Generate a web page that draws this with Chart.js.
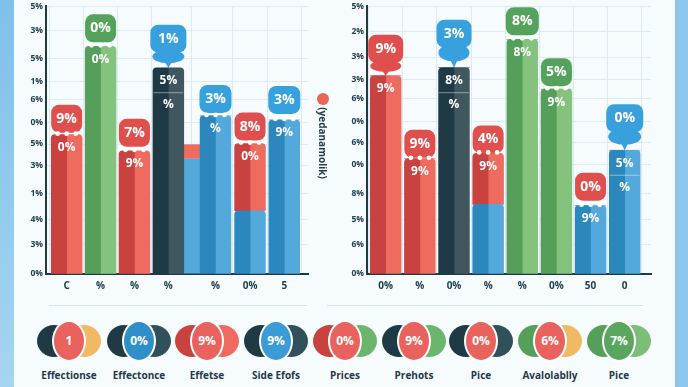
<!DOCTYPE html>
<html>
<head>
<meta charset="utf-8">
<title>Bars</title>
<script src="https://cdn.jsdelivr.net/npm/chart.js@4/dist/chart.umd.min.js"></script>
<style>
    html, body { margin: 0; padding: 0; width: 688px; height: 387px; overflow: hidden; background: #f6fbfe; }
    body { position: relative; font-family: "Open Sans", sans-serif; color: #1f3a48; }
    .strip { position: absolute; top: 0; bottom: 0; }
    #stripLeft { left: 0; width: 14px; background: linear-gradient(#7fc0ea, #a5d5f0); }
    #stripRight { left: 675px; right: 0; background: #8cc6ec; }
    #wrapLeft, #wrapRight { position: absolute; top: -2px; height: 308px; }
    #wrapLeft { left: 14px; width: 306px; }
    #wrapRight { left: 338px; width: 320px; }
    .rule { position: absolute; top: 305px; height: 1px; background: #d3e4ee; }
    #sideDot { position: absolute; left: 317px; top: 93px; width: 12px; height: 12px; border-radius: 50%; background: #ea6557; }
    #sideTitle { position: absolute; left: 323px; top: 143px; transform: translate(-50%, -50%) rotate(90deg); font-size: 10px; font-weight: 700; white-space: nowrap; }
    .item { position: absolute; top: 319px; width: 64px; height: 44px; }
    .item i { position: absolute; top: 6px; width: 34px; height: 32px; border-radius: 50%; }
    .item i.l { left: 0; }
    .item i.r { right: 0; }
    .item b { position: absolute; left: 15px; top: 1px; width: 34px; height: 42px; box-sizing: border-box; border: 2px solid #fff; border-radius: 50%;
        color: #fff; font-size: 12px; font-weight: 700; text-align: center; line-height: 37px; }
    .cap { position: absolute; top: 368px; width: 80px; text-align: center; font-size: 10px; font-weight: 700; line-height: 14px; color: #1f3a48; }
</style>
</head>
<body>
<div class="strip" id="stripLeft"></div>
<div class="strip" id="stripRight"></div>
<div id="wrapLeft"><canvas id="chartLeft"></canvas></div>
<div id="wrapRight"><canvas id="chartRight"></canvas></div>
<div id="sideDot"></div>
<div id="sideTitle">(yedanamolik)</div>
<div class="rule" style="left:49px;width:258px"></div>
<div class="rule" style="left:327px;width:316px"></div>
<div id="legend"></div>

<script>
// --- Left chart data ---
const leftTickValues = [100, 91, 80.5, 72, 65, 56.5, 48.5, 40.5, 30, 20.5, 11, 0];
const leftTickLabels = ['5%', '3%', '5%', '1%', '6%', '0%', '5%', '3%', '1%', '4%', '3%', '0%'];
const leftSlots = [1, 2, 3, 4, 5.39, 6.41, 7.42];
const leftXLabels = ['C', '%', '%', '%', '%', '0%', '5'];
const leftLower = [0, 0, 0, 0, 59, 23.6, 57.5];
const leftUpper = [52, 85, 46, 77, 0, 25.1, 0];
const leftBubbles = ['9%', '0%', '7%', '1%', '3%', '8%', '3%'];
const leftInner = ['0%', '0%', '9%', '5%', '%', '0%', '9%'];
const leftInnerLow = [null, null, null, '%', null, null, null];
const leftNarrowLower = [43];
const leftNarrowUpper = [5.4];

// --- Right chart data ---
const rightTickValues = [100, 90.5, 81, 72.5, 65.5, 57, 49, 41, 30, 20.5, 11, 0];
const rightTickLabels = ['5%', '2%', '3%', '3%', '6%', '0%', '6%', '0%', '8%', '5%', '6%', '0%'];
const rightSlots = [1, 2, 3, 4, 5, 6, 7, 8];
const rightXLabels = ['0%', '%', '0%', '%', '%', '0%', '50', '0'];
const rightLower = [74, 43, 77, 26, 87.6, 69, 25.5, 46.2];
const rightUpper = [0, 0, 0, 19, 0, 0, 0, 0];
const rightBubbles = ['9%', '9%', '3%', '4%', '8%', '5%', '0%', '0%'];
const rightInner = ['9%', '9%', '8%', '9%', '8%', '9%', '9%', '5%'];
const rightInnerLow = [null, null, '%', null, null, null, null, '%'];

// --- Legend data ---
const legendValues = ['1', '0%', '9%', '9%', '0%', '9%', '0%', '6%', '7%'];
const legendNames = ['Effectionse', 'Effectonce', 'Effetse', 'Side Efofs', 'Prices', 'Prehots', 'Pice', 'Avalolablly', 'Pice'];

// --- Colours ---
const tones = {
    red:   { dark: '#c8423f', light: '#ee6b5f', bubble: '#de4f4e' },
    green: { dark: '#559f5a', light: '#84c27e', bubble: '#55a25c' },
    blue:  { dark: '#2b87bc', light: '#53a8dc', bubble: '#38a0dc' },
    ink:   { dark: '#1f3a44', light: '#40575f', bubble: '#38a0dc' }
};
const inkText = '#21404f';
const gridColor = '#dcebf3';

const leftColours = {
    lower: ['red', 'green', 'red', 'ink', 'blue', 'blue', 'blue'],
    upper: ['red', 'green', 'red', 'ink', 'blue', 'red', 'blue'],
    bubble: ['red', 'green', 'red', 'blue', 'blue', 'red', 'blue']
};
const rightColours = {
    lower: ['red', 'red', 'ink', 'blue', 'green', 'green', 'blue', 'blue'],
    upper: ['red', 'red', 'ink', 'red', 'green', 'green', 'blue', 'blue'],
    bubble: ['red', 'red', 'blue', 'red', 'green', 'green', 'red', 'blue']
};

// Gap between bar top and bubble bottom, and bubble widths, per bar
const leftCallout = { gap: [2, 4, 4, 15, 3, 3, 6], width: [31, 31, 31, 36, 32, 31, 32] };
const rightCallout = { gap: [13, 1, 20, 0, 4, 3, 5, 18], width: [35, 31, 35, 31, 33, 31, 31, 37] };

// --- Helper Functions ---
function paint(names, shade) {
    return names.map(name => tones[name][shade]);
}

// Draws the pill above every bar and the percentages inside it
const calloutPlugin = {
    id: 'callout',
    afterDatasetsDraw(chart, args, opts) {
        const ctx = chart.ctx;
        const bars = chart.getDatasetMeta(0).data;
        const barsRight = chart.getDatasetMeta(2).data;
        bars.forEach((bar, i) => {
            const x = (bar.x + barsRight[i].x) / 2;
            const top = chart.scales.y.getPixelForValue(opts.lower[i] + opts.upper[i]);
            const w = opts.style.width[i];
            const h = 28;
            const gap = opts.style.gap[i];
            const bottom = top - gap;
            const fill = tones[opts.colours[i]].bubble;

            ctx.save();
            ctx.fillStyle = fill;
            ctx.beginPath();
            ctx.roundRect(x - w / 2, bottom - h, w, h, 8);
            ctx.fill();
            // tail that joins the pill to the bar
            if (gap > 8) {
                ctx.beginPath();
                ctx.ellipse(x, bottom + gap * 0.25, w / 2 - 2, gap * 0.45, 0, 0, Math.PI * 2);
                ctx.fill();
                ctx.beginPath();
                ctx.moveTo(x - 9, bottom);
                ctx.lineTo(x + 9, bottom);
                ctx.lineTo(x, top);
                ctx.closePath();
                ctx.fill();
            } else {
                // white scallops at the joint
                ctx.fillStyle = '#ffffff';
                [-9, 0, 9].forEach(dx => {
                    ctx.beginPath();
                    ctx.arc(x + dx, top - 1, 2.4, 0, Math.PI * 2);
                    ctx.fill();
                });
            }
            ctx.fillStyle = '#ffffff';
            ctx.textAlign = 'center';
            ctx.textBaseline = 'middle';
            ctx.font = 'bold 14px "Open Sans"';
            ctx.fillText(opts.bubbles[i], x, bottom - h / 2);
            ctx.font = 'bold 12px "Open Sans"';
            ctx.fillText(opts.inner[i], x, top + 13);
            // second line under a thin divider
            if (opts.innerLow[i]) {
                ctx.strokeStyle = 'rgba(255,255,255,0.45)';
                ctx.beginPath();
                ctx.moveTo(x - 15, top + 25);
                ctx.lineTo(x + 15, top + 25);
                ctx.stroke();
                ctx.fillText(opts.innerLow[i], x, top + 37);
            }
            ctx.restore();
        });
    }
};

function buildChart(canvasId, d) {
    const datasets = [
        { stack: 'dark',  data: d.slots.map((x, i) => ({ x, y: d.lower[i] })), backgroundColor: paint(d.colours.lower, 'dark'),  barThickness: 15.4, borderRadius: { topLeft: 4 } },
        { stack: 'dark',  data: d.slots.map((x, i) => ({ x, y: d.upper[i] })), backgroundColor: paint(d.colours.upper, 'dark'),  barThickness: 15.4, borderRadius: { topLeft: 4 } },
        { stack: 'light', data: d.slots.map((x, i) => ({ x, y: d.lower[i] })), backgroundColor: paint(d.colours.lower, 'light'), barThickness: 15.4, borderRadius: { topRight: 4 } },
        { stack: 'light', data: d.slots.map((x, i) => ({ x, y: d.upper[i] })), backgroundColor: paint(d.colours.upper, 'light'), barThickness: 15.4, borderRadius: { topRight: 4 } }
    ];
    // The thin red and blue bar squeezed beside the fifth column
    if (d.narrowAt) {
        datasets.push(
            { stack: 'narrow', grouped: false, order: 2, data: [{ x: d.narrowAt, y: d.narrowLower[0] }], backgroundColor: tones.blue.light, maxBarThickness: 17 },
            { stack: 'narrow', grouped: false, order: 2, data: [{ x: d.narrowAt, y: d.narrowUpper[0] }], backgroundColor: tones.red.light, maxBarThickness: 17 }
        );
    }

    return new Chart(document.getElementById(canvasId), {
        type: 'bar',
        data: { datasets },
        plugins: [calloutPlugin],
        options: {
            responsive: true,
            maintainAspectRatio: false,
            animation: false,
            layout: { padding: d.padding },
            plugins: {
                legend: { display: false },
                tooltip: { enabled: false },
                callout: {
                    lower: d.lower, upper: d.upper,
                    bubbles: d.bubbles, inner: d.inner, innerLow: d.innerLow,
                    colours: d.colours.bubble, style: d.style
                }
            },
            scales: {
                x: {
                    type: 'linear',
                    offset: false,
                    min: d.xMin,
                    max: d.xMax,
                    afterBuildTicks: scale => { scale.ticks = d.slots.map(value => ({ value })); },
                    grid: { color: gridColor, drawTicks: false },
                    border: { color: '#1f3a44', width: 2 },
                    ticks: {
                        autoSkip: false,
                        maxRotation: 0,
                        padding: 6,
                        color: inkText,
                        font: { family: 'Open Sans', size: 10, weight: 'bold' },
                        callback: (value, i) => d.xLabels[i]
                    }
                },
                y: {
                    stacked: true,
                    min: 0,
                    max: 100,
                    afterBuildTicks: scale => { scale.ticks = d.tickValues.map(value => ({ value })); },
                    afterFit: scale => { scale.width = d.axisWidth; },
                    grid: { color: gridColor, drawTicks: false },
                    border: { color: '#1f3a44', width: 2 },
                    ticks: {
                        autoSkip: false,
                        padding: 3,
                        color: inkText,
                        font: { family: 'Open Sans', size: 8.5, weight: 'bold' },
                        callback: (value, i) => d.tickLabels[i]
                    }
                }
            }
        }
    });
}

// --- Build the charts ---
buildChart('chartLeft', {
    slots: leftSlots, xLabels: leftXLabels, lower: leftLower, upper: leftUpper,
    bubbles: leftBubbles, inner: leftInner, innerLow: leftInnerLow, colours: leftColours, style: leftCallout,
    tickValues: leftTickValues, tickLabels: leftTickLabels,
    narrowAt: 4.7, narrowLower: leftNarrowLower, narrowUpper: leftNarrowUpper,
    xMin: 0.39, xMax: 8.12, axisWidth: 32,
    padding: { top: 0, right: 12, left: 0, bottom: 8 }
});
buildChart('chartRight', {
    slots: rightSlots, xLabels: rightXLabels, lower: rightLower, upper: rightUpper,
    bubbles: rightBubbles, inner: rightInner, innerLow: rightInnerLow, colours: rightColours, style: rightCallout,
    tickValues: rightTickValues, tickLabels: rightTickLabels,
    xMin: 0.452, xMax: 8.77, axisWidth: 29,
    padding: { top: 0, right: 7, left: 0, bottom: 8 }
});

// --- Bottom legend ---
const legendCentres = [69, 139, 207, 276, 345, 414, 481, 550, 619];
const legendTones = [
    ['#1f3a44', '#e9625d', '#efba63'], ['#1f3a44', '#2f8fc8', '#30505c'], ['#c8423f', '#e9625d', '#ee6b5f'],
    ['#1f3a44', '#3a9bd6', '#30505c'], ['#c8423f', '#e9625d', '#6cb56c'], ['#1f3a44', '#e9625d', '#6cb56c'],
    ['#1f3a44', '#e9625d', '#30505c'], ['#559f5a', '#e9625d', '#efba63'], ['#559f5a', '#5aa65f', '#7cbd78']
];
const legend = document.getElementById('legend');
legendValues.forEach((value, i) => {
    const [leftTone, midTone, rightTone] = legendTones[i];
    const item = document.createElement('div');
    item.className = 'item';
    item.style.left = (legendCentres[i] - 32) + 'px';
    item.innerHTML = `<i class="l" style="background:${leftTone}"></i><i class="r" style="background:${rightTone}"></i><b style="background:${midTone}">${value}</b>`;
    legend.appendChild(item);

    const cap = document.createElement('div');
    cap.className = 'cap';
    cap.style.left = (legendCentres[i] - 40) + 'px';
    cap.textContent = legendNames[i];
    legend.appendChild(cap);
});
</script>
</body>
</html>
